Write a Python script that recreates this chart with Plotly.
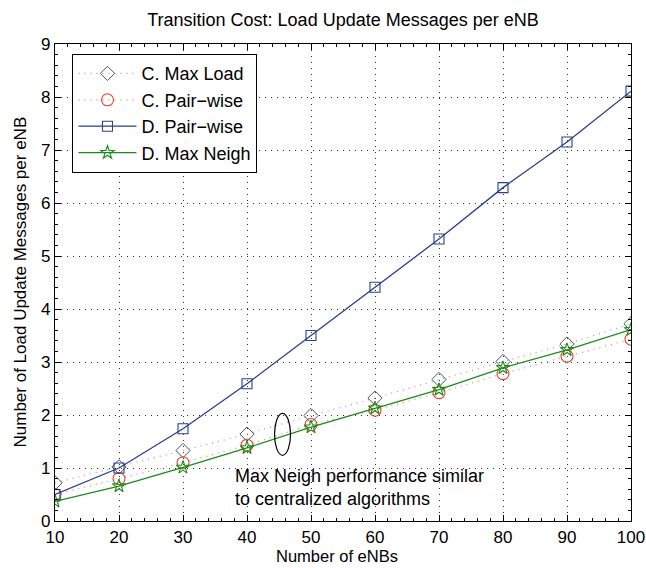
import plotly.graph_objects as go

n_enbs = [10, 20, 30, 40, 50, 60, 70, 80, 90, 100]
c_max_load = [0.72, 1.02, 1.33, 1.64, 1.99, 2.32, 2.67, 3.01, 3.34, 3.72]
c_pair_wise = [0.50, 0.80, 1.10, 1.43, 1.82, 2.09, 2.42, 2.78, 3.11, 3.43]
d_pair_wise = [0.50, 1.00, 1.74, 2.59, 3.50, 4.41, 5.32, 6.29, 7.15, 8.11]
d_max_neigh = [0.37, 0.66, 1.01, 1.38, 1.77, 2.13, 2.48, 2.89, 3.23, 3.61]

x_ticks = [10, 20, 30, 40, 50, 60, 70, 80, 90, 100]
y_ticks = [0, 1, 2, 3, 4, 5, 6, 7, 8, 9]

FONT = "Liberation Sans, Arial, Helvetica, sans-serif"
FS = 18

fig = go.Figure()
fig.add_trace(go.Scatter(
    x=n_enbs, y=c_max_load, name="C. Max Load", mode="lines+markers",
    line=dict(color="#9a9a9a", width=1.2, dash="1px,5px"),
    marker=dict(symbol="diamond-open", size=11, color="#555555", line=dict(width=1))))
fig.add_trace(go.Scatter(
    x=n_enbs, y=c_pair_wise, name="C. Pair\u2212wise", mode="lines+markers",
    line=dict(color="#f07a68", width=1.2, dash="1px,5px"),
    marker=dict(symbol="circle-open", size=12, color="#e4412a", line=dict(width=1.1))))
fig.add_trace(go.Scatter(
    x=n_enbs, y=d_pair_wise, name="D. Pair\u2212wise", mode="lines+markers",
    line=dict(color="#2a3f8f", width=1.3),
    marker=dict(symbol="square-open", size=10, color="#2a3f8f", line=dict(width=1.1))))
fig.add_trace(go.Scatter(
    x=n_enbs, y=d_max_neigh, name="D. Max Neigh", mode="lines+markers",
    line=dict(color="#1a8c1a", width=1.3),
    marker=dict(symbol="star-open", size=10, color="#1a8c1a", line=dict(width=1.1))))

# ellipse marking the centralized/max-neigh cluster
fig.add_shape(type="circle", xref="x", yref="y", x0=44.3, x1=46.8, y0=1.24, y1=2.03,
              line=dict(color="black", width=1.2))

fig.add_annotation(x=37.8, y=0.64, xref="x", yref="y", xanchor="left", yanchor="middle",
                   align="left", showarrow=False,
                   text="Max Neigh performance similar<br>to centralized algorithms",
                   font=dict(family=FONT, size=FS, color="black"))

# axis titles
PW = 646 - 55 - 15
PH = 568 - 44 - 47
fig.add_annotation(x=(337 - 55) / PW, y=-(556 - 521) / PH, xref="paper", yref="paper",
                   xanchor="center", yanchor="middle", showarrow=False,
                   text="Number of eNBs", font=dict(family=FONT, size=16.5, color="black"))
fig.add_annotation(x=(20 - 55) / PW, y=0.5, xref="paper", yref="paper",
                   xanchor="center", yanchor="middle", showarrow=False, textangle=-90,
                   text="Number of Load Update Messages per eNB",
                   font=dict(family=FONT, size=17, color="black"))

axis_common = dict(
    showline=True, linecolor="black", linewidth=1.2, mirror="allticks",
    ticks="inside", ticklen=6, tickcolor="black", tickwidth=1,
    showgrid=True, gridcolor="#333333", griddash="1px,5px", gridwidth=1,
    zeroline=False, tickfont=dict(family=FONT, size=17, color="black"),
    automargin=False, ticklabeloverflow="allow",
)

fig.update_xaxes(range=[10, 100], tickvals=x_ticks,
                 minor=dict(ticks="inside", ticklen=3, tickcolor="black", dtick=2, showgrid=False),
                 **axis_common)
fig.update_yaxes(range=[0, 9], tickvals=y_ticks,
                 minor=dict(ticks="inside", ticklen=3, tickcolor="black", dtick=0.2, showgrid=False),
                 **axis_common)

fig.update_layout(
    width=646, height=568,
    margin=dict(l=55, r=15, t=44, b=47),
    paper_bgcolor="white", plot_bgcolor="white",
    title=dict(text="Transition Cost: Load Update Messages per eNB",
               x=0.5, xref="paper", y=1 - 20 / 568, yref="container", yanchor="middle",
               font=dict(family=FONT, size=FS, color="black")),
    legend=dict(x=0.03, y=0.979, xanchor="left", yanchor="top",
                bgcolor="white", bordercolor="black", borderwidth=1.2,
                font=dict(family=FONT, size=FS, color="black"),
                itemwidth=58, tracegroupgap=0),
    showlegend=True,
)

fig.write_html("out.html")
